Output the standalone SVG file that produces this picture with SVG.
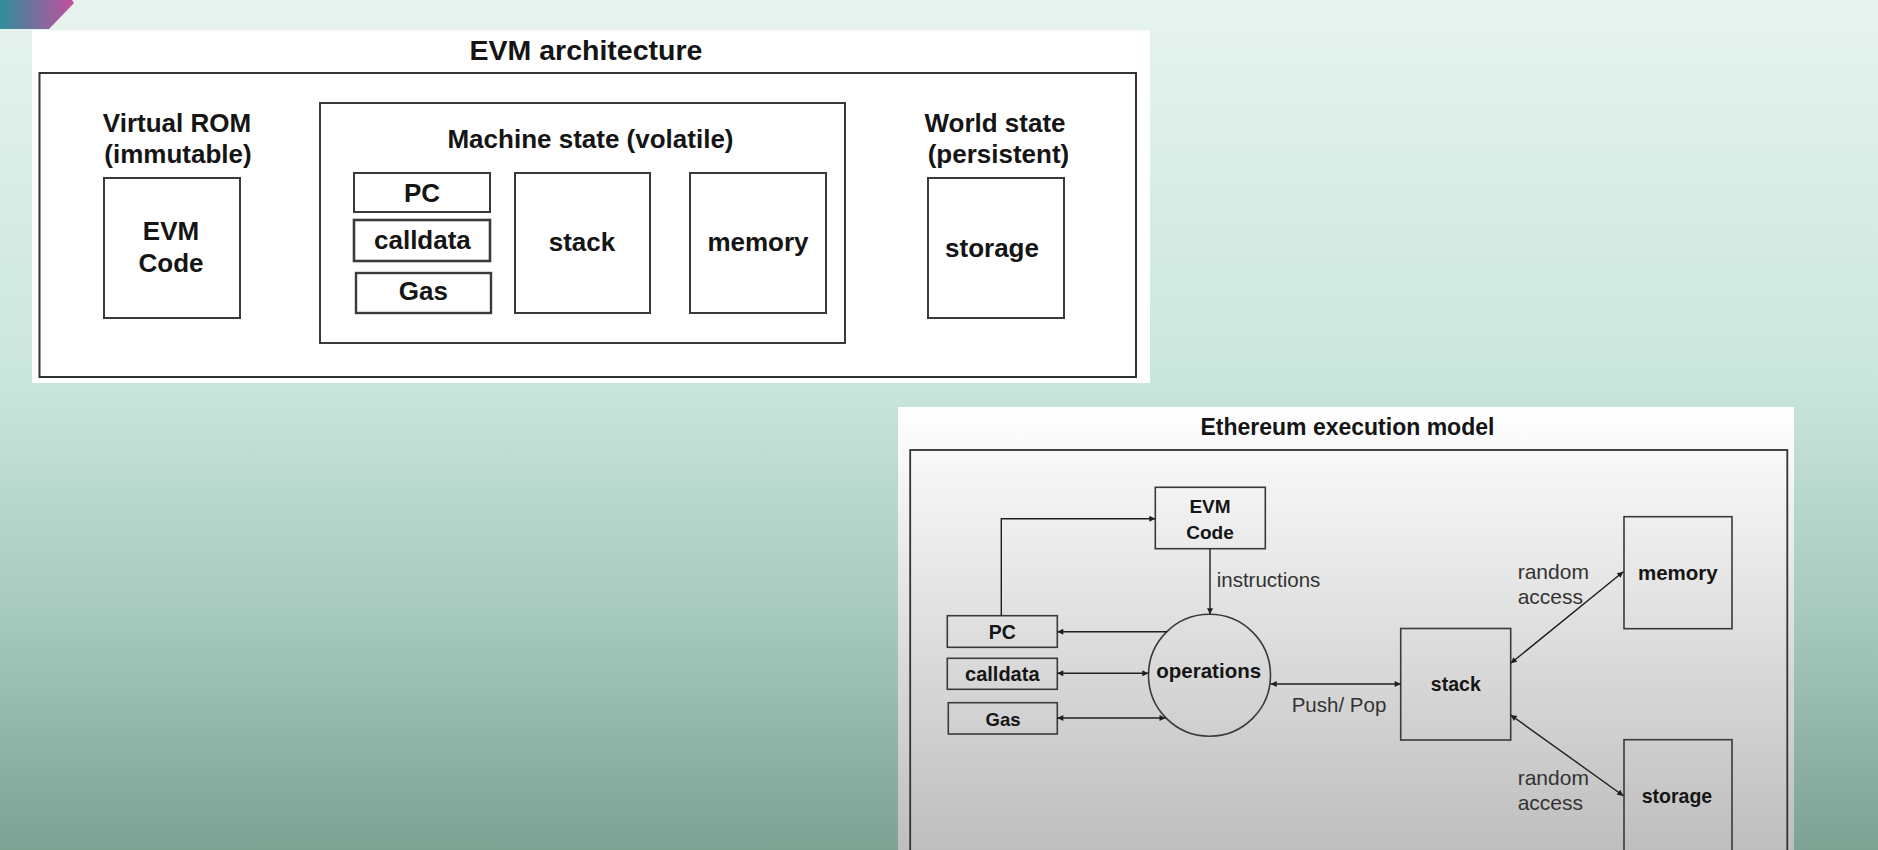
<svg xmlns="http://www.w3.org/2000/svg" width="1878" height="850" viewBox="0 0 1878 850">
  <defs>
    <linearGradient id="bg" x1="0" y1="0" x2="0" y2="1">
      <stop offset="0" stop-color="#e7f3ef"/>
      <stop offset="0.45" stop-color="#cae6dc"/>
      <stop offset="0.72" stop-color="#a7cabe"/>
      <stop offset="1" stop-color="#7ca294"/>
    </linearGradient>
    <linearGradient id="deco" x1="0" y1="0" x2="1" y2="0">
      <stop offset="0" stop-color="#2f8e9c"/>
      <stop offset="1" stop-color="#c24e9f"/>
    </linearGradient>
    <linearGradient id="panel2" x1="0" y1="0" x2="0" y2="1">
      <stop offset="0" stop-color="#ffffff"/>
      <stop offset="0.2" stop-color="#f2f2f2"/>
      <stop offset="1" stop-color="#bdbdbd"/>
    </linearGradient>
    <marker id="ah" viewBox="0 0 10 10" refX="10" refY="5" markerWidth="8" markerHeight="6" orient="auto-start-reverse" markerUnits="userSpaceOnUse">
      <path d="M0,0 L10,5 L0,10 z" fill="#1e1e1e"/>
    </marker>
    <style>
      .box1 { fill: #ffffff; stroke: #3a3a3a; stroke-width: 2; }
      .box2 { fill: none; stroke: #3a3a3a; stroke-width: 1.6; }
      .t1 { font-family: "Liberation Sans", Arial, sans-serif; font-weight: bold; font-size: 26px; fill: #151515; text-anchor: middle; }
      .t2 { font-family: "Liberation Sans", Arial, sans-serif; font-weight: bold; font-size: 19.5px; fill: #151515; text-anchor: middle; }
      .lbl { font-family: "Liberation Sans", Arial, sans-serif; font-size: 20.5px; fill: #333333; }
      .conn { fill: none; stroke: #1e1e1e; stroke-width: 1.4; }
    </style>
  </defs>

  <!-- background -->
  <rect x="0" y="0" width="1878" height="850" fill="url(#bg)"/>
  <polygon points="0,0 72,0 74,3 49,29 0,29" fill="url(#deco)"/>

  <!-- Panel 1: EVM architecture -->
  <g id="panel-evm-architecture">
    <rect x="32" y="30.5" width="1118" height="352.5" fill="#ffffff"/>
    <text class="t1" x="586" y="60" style="font-size:28.5px">EVM architecture</text>
    <rect x="39.5" y="73" width="1096.5" height="304" fill="none" stroke="#333333" stroke-width="2"/>
  </g>

  <g id="virtual-rom">
    <text class="t1" x="177" y="132">Virtual ROM</text>
    <text class="t1" x="178" y="163">(immutable)</text>
  </g>
  <g id="evm-code-1">
    <rect class="box1" x="104" y="178" width="136" height="140"/>
    <text class="t1" x="171" y="240">EVM</text>
    <text class="t1" x="171" y="272">Code</text>
  </g>

  <g id="machine-state">
    <rect class="box1" x="320" y="103" width="525" height="240"/>
    <text class="t1" x="590.5" y="148">Machine state (volatile)</text>
  </g>
  <g id="pc-1">
    <rect class="box1" x="354" y="173" width="136" height="39"/>
    <text class="t1" x="422" y="202">PC</text>
  </g>
  <g id="calldata-1">
    <rect class="box1" x="354" y="220" width="136" height="41" style="stroke-width:2.6"/>
    <text class="t1" x="422.4" y="248.5">calldata</text>
  </g>
  <g id="gas-1">
    <rect class="box1" x="356" y="273" width="135" height="40" style="stroke-width:2.4"/>
    <text class="t1" x="423.4" y="300">Gas</text>
  </g>
  <g id="stack-1">
    <rect class="box1" x="515" y="173" width="135" height="140"/>
    <text class="t1" x="582" y="251">stack</text>
  </g>
  <g id="memory-1">
    <rect class="box1" x="690" y="173" width="136" height="140"/>
    <text class="t1" x="758" y="251">memory</text>
  </g>

  <g id="world-state">
    <text class="t1" x="995" y="132">World state</text>
    <text class="t1" x="998.5" y="163">(persistent)</text>
  </g>
  <g id="storage-1">
    <rect class="box1" x="928" y="178" width="136" height="140"/>
    <text class="t1" x="992" y="257">storage</text>
  </g>

  <!-- Panel 2: Ethereum execution model -->
  <g id="panel-execution-model">
    <rect x="898" y="407" width="896" height="450" fill="url(#panel2)"/>
    <text class="t2" x="1347.4" y="435" style="font-size:23px">Ethereum execution model</text>
    <rect x="910.2" y="450" width="877.1" height="420" fill="none" stroke="#333333" stroke-width="1.8"/>
  </g>

  <g id="evm-code-2">
    <rect class="box2" x="1155.3" y="487.3" width="110" height="61.4"/>
    <text class="t2" x="1210" y="513" style="font-size:19px">EVM</text>
    <text class="t2" x="1210" y="539" style="font-size:19px">Code</text>
  </g>
  <g id="pc-2">
    <rect class="box2" x="947.3" y="615.7" width="110" height="31.6"/>
    <text class="t2" x="1002.3" y="639">PC</text>
  </g>
  <g id="calldata-2">
    <rect class="box2" x="947.3" y="658.3" width="110" height="31"/>
    <text class="t2" x="1002.3" y="681" style="font-size:20px">calldata</text>
  </g>
  <g id="gas-2">
    <rect class="box2" x="948.3" y="702.7" width="109" height="31.3"/>
    <text class="t2" x="1003" y="726" style="font-size:18.5px">Gas</text>
  </g>
  <g id="operations">
    <circle class="box2" cx="1209.5" cy="675.2" r="61"/>
    <text class="t2" x="1208.7" y="678" style="font-size:20.5px">operations</text>
  </g>
  <g id="stack-2">
    <rect class="box2" x="1400.7" y="628.5" width="110" height="111.5"/>
    <text class="t2" x="1455.8" y="690.7">stack</text>
  </g>
  <g id="memory-2">
    <rect class="box2" x="1624" y="516.7" width="108" height="112"/>
    <text class="t2" x="1677.8" y="580" style="font-size:20.5px">memory</text>
  </g>
  <g id="storage-2">
    <rect class="box2" x="1624" y="739.7" width="108" height="130"/>
    <text class="t2" x="1677" y="802.7">storage</text>
  </g>

  <!-- connectors -->
  <g id="connectors">
    <path class="conn" d="M1001.3,615.7 V518.7 H1155.3" marker-end="url(#ah)"/>
    <path class="conn" d="M1210,548.7 V614.3" marker-end="url(#ah)"/>
    <path class="conn" d="M1167,631.7 H1057.3" marker-end="url(#ah)"/>
    <path class="conn" d="M1057.3,673.3 H1148.3" marker-start="url(#ah)" marker-end="url(#ah)"/>
    <path class="conn" d="M1057.3,718 H1165.5" marker-start="url(#ah)" marker-end="url(#ah)"/>
    <path class="conn" d="M1270.7,684 H1400.7" marker-start="url(#ah)" marker-end="url(#ah)"/>
    <path class="conn" d="M1510.7,663.3 L1623.3,571.7" marker-start="url(#ah)" marker-end="url(#ah)"/>
    <path class="conn" d="M1510.7,715 L1623.3,795.7" marker-start="url(#ah)" marker-end="url(#ah)"/>
  </g>

  <!-- connector labels -->
  <g id="connector-labels">
    <text class="lbl" x="1216.7" y="587.3">instructions</text>
    <text class="lbl" x="1291.7" y="711.7">Push/ Pop</text>
    <text class="lbl" x="1517.7" y="579" style="font-size:21px">random</text>
    <text class="lbl" x="1517.7" y="604.3" style="font-size:21px">access</text>
    <text class="lbl" x="1517.7" y="785" style="font-size:21px">random</text>
    <text class="lbl" x="1517.7" y="810" style="font-size:21px">access</text>
  </g>
</svg>
